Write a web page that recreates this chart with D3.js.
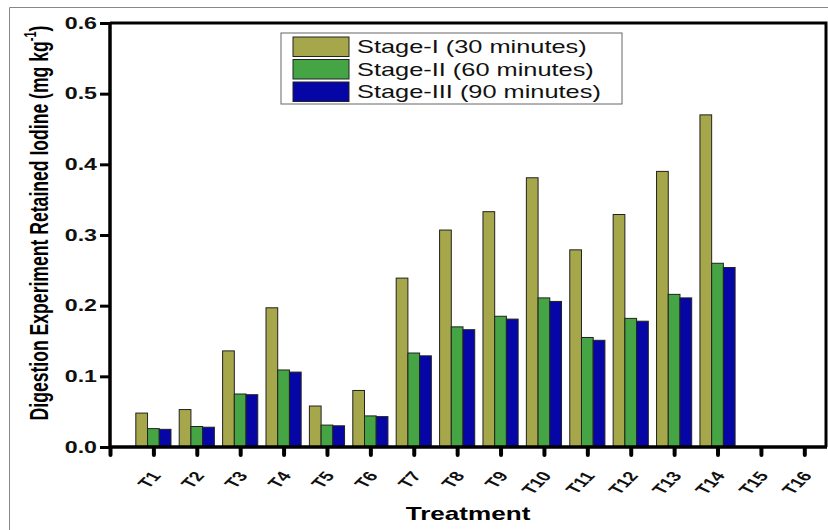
<!DOCTYPE html>
<html>
<head>
<meta charset="utf-8">
<script src="https://cdn.jsdelivr.net/npm/d3@7"></script>
<style>
  body { margin: 0; background: #fff; }
  svg { display: block; }
</style>
</head>
<body>
<script>
// data
var treatments = ["T1","T2","T3","T4","T5","T6","T7","T8","T9","T10","T11","T12","T13","T14","T15","T16"]
var stage1 = [0.048,0.053,0.136,0.197,0.058,0.080,0.239,0.307,0.333,0.381,0.279,0.329,0.390,0.470]
var stage2 = [0.026,0.029,0.075,0.109,0.031,0.044,0.133,0.170,0.185,0.211,0.155,0.182,0.216,0.260]
var stage3 = [0.025,0.028,0.074,0.106,0.030,0.043,0.129,0.166,0.181,0.206,0.151,0.178,0.211,0.254]
var seriesNames = ["Stage-I (30 minutes)", "Stage-II (60 minutes)", "Stage-III (90 minutes)"]
var yTicks = [0, 0.1, 0.2, 0.3, 0.4, 0.5, 0.6]

var colors = ["#a6a64a", "#45a545", "#0606a6"]
var series = [stage1, stage2, stage3]

var W = 828, H = 530
var pLeft = 110, pRight = 826, pTop = 23, pBottom = 447
var sx = 1.45   // the original text is stretched sideways
var font = "Liberation Sans, Arial, sans-serif"

var svg = d3.select("body").append("svg")
    .attr("width", W).attr("height", H)

// outer thin border of the figure
svg.append("path")
    .attr("d", "M9.5," + H + " V7.5 H" + W)
    .attr("fill", "none").attr("stroke", "#888").attr("stroke-width", 1)

var x = d3.scaleLinear().domain([0, 16.5]).range([pLeft, pRight])
var y = d3.scaleLinear().domain([0, 0.6]).range([pBottom, pTop])

var barW = 0.27

// bars
series.forEach(function(vals, si) {
    svg.append("g").selectAll("rect")
        .data(vals)
        .enter().append("rect")
        .attr("x", function(d, i) { return x(i + 1 + (si - 1.5) * barW) })
        .attr("width", x(barW) - x(0))
        .attr("y", function(d) { return y(d) })
        .attr("height", function(d) { return y(0) - y(d) })
        .attr("fill", colors[si])
        .attr("stroke", "#222")
        .attr("stroke-width", 1)
})

// frame
svg.append("path")
    .attr("d", "M" + pLeft + "," + pTop + " H" + pRight + " V" + pBottom)
    .attr("fill", "none").attr("stroke", "#000").attr("stroke-width", 3)

// y axis
var yAxis = d3.axisLeft(y).tickValues(yTicks).tickFormat(d3.format(".1f")).tickSize(10)
var gy = svg.append("g").attr("transform", "translate(" + pLeft + ",0)").call(yAxis)
gy.select(".domain").attr("stroke-width", 3.5).attr("d", "M0," + (pTop - 1) + "V" + (pBottom + 1))
gy.selectAll(".tick line").attr("stroke-width", 3)
gy.selectAll(".tick text")
    .attr("font-family", font)
    .attr("font-weight", "bold").attr("font-size", 16).attr("fill", "#111")
    .attr("x", 0)
    .attr("transform", "translate(-13,0) scale(" + sx + ",1)")

// x axis
var xAxis = d3.axisBottom(x).tickValues(d3.range(0, 17)).tickSize(8)
    .tickFormat(function(d) { return d === 0 ? "" : treatments[d - 1] })
var gx = svg.append("g").attr("transform", "translate(0," + pBottom + ")").call(xAxis)
gx.select(".domain").attr("stroke-width", 3.5).attr("d", "M" + (pLeft - 1) + ",0H" + (pRight + 1))
gx.selectAll(".tick line").attr("stroke-width", 4).attr("stroke-linecap", "round").attr("y1", 1)
gx.selectAll(".tick text")
    .attr("font-family", font)
    .attr("font-weight", "bold").attr("font-size", 14).attr("fill", "#111")
    .attr("text-anchor", "end")
    .attr("y", 0).attr("dy", "0.35em")
    .attr("transform", "translate(2,26) scale(" + sx + ",1) rotate(-55)")

// axis titles
svg.append("text")
    .attr("text-anchor", "middle")
    .attr("transform", "translate(" + ((pLeft + pRight) / 2) + ",520) scale(" + sx + ",1)")
    .attr("font-family", font)
    .attr("font-weight", "bold").attr("font-size", 18)
    .text("Treatment")

var yt = svg.append("text")
    .attr("transform", "translate(48,223) scale(" + sx + ",1) rotate(-90)")
    .attr("text-anchor", "middle")
    .attr("font-family", font)
    .attr("font-weight", "bold").attr("font-size", 17.6)
yt.append("tspan").text("Digestion Experiment Retained Iodine (mg kg")
yt.append("tspan").attr("dy", -8).attr("font-size", 11).text("-1")
yt.append("tspan").attr("dy", 8).text(")")

// legend
var lg = svg.append("g").attr("transform", "translate(281,33)")
lg.append("rect").attr("width", 341).attr("height", 71)
    .attr("fill", "#fff").attr("stroke", "#666").attr("stroke-width", 1)
seriesNames.forEach(function(name, i) {
    lg.append("rect")
        .attr("x", 12).attr("y", 4 + i * 22.5)
        .attr("width", 56).attr("height", 19.5)
        .attr("fill", colors[i]).attr("stroke", "#222").attr("stroke-width", 1)
    lg.append("text")
        .attr("transform", "translate(76," + (14 + i * 22.5) + ") scale(" + sx + ",1)")
        .attr("dy", "0.35em")
        .attr("font-family", font)
        .attr("font-size", 17.5).attr("fill", "#111")
        .text(name)
})
</script>
</body>
</html>
